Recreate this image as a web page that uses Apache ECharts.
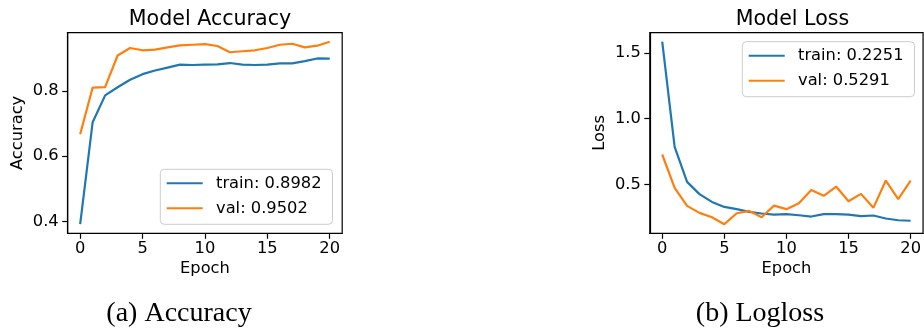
<!DOCTYPE html>
<html>
<head>
<meta charset="utf-8">
<script src="https://cdn.jsdelivr.net/npm/echarts@6/dist/echarts.min.js"></script>
<style>
  html, body { margin: 0; padding: 0; background: #fff; }
  #chart { width: 924px; height: 336px; }
</style>
</head>
<body>
<div id="chart"></div>
<script>
// Training history: one value per epoch
const epochs = [0,1,2,3,4,5,6,7,8,9,10,11,12,13,14,15,16,17,18,19,20];

const accTrain = [0.392,0.704,0.786,0.811,0.834,0.851,0.862,0.871,0.880,0.879,0.880,
                  0.881,0.885,0.880,0.879,0.880,0.884,0.884,0.891,0.899,0.8982];
const accVal   = [0.667,0.810,0.811,0.908,0.931,0.924,0.926,0.933,0.939,0.941,0.943,
                  0.937,0.918,0.921,0.924,0.931,0.941,0.944,0.933,0.938,0.9502];

const lossTrain = [1.584,0.786,0.520,0.427,0.368,0.330,0.313,0.292,0.280,0.272,0.275,
                   0.267,0.257,0.275,0.275,0.272,0.260,0.265,0.242,0.229,0.2251];
const lossVal   = [0.728,0.475,0.338,0.285,0.252,0.199,0.282,0.300,0.252,0.340,0.313,
                   0.358,0.459,0.414,0.485,0.373,0.429,0.323,0.530,0.389,0.5291];

const xTicks = [0, 5, 10, 15, 20];
const accTicks = [0.4, 0.6, 0.8];
const lossTicks = [0.5, 1.0, 1.5];

const accNames = ['train: 0.8982', 'val: 0.9502'];
const lossNames = ['train: 0.2251', 'val: 0.5291'];

const BLUE = '#1f77b4';
const ORANGE = '#ff7f0e';
const SANS = 'DejaVu Sans';
const FS = 16.3;

const pairs = (vals) => epochs.map((e, i) => [e, vals[i]]);

function xAxis(gridIndex) {
  return {
    type: 'value', gridIndex, min: -1, max: 21,
    name: 'Epoch', nameLocation: 'middle', nameGap: 27,
    nameTextStyle: { fontFamily: SANS, fontSize: FS, color: '#000' },
    axisLine: { show: true, onZero: false, lineStyle: { color: '#000', width: 1.2 } },
    axisTick: { show: true, inside: false, length: 5.5, customValues: xTicks,
                lineStyle: { color: '#000', width: 1.2 } },
    axisLabel: { customValues: xTicks, margin: 7, fontFamily: SANS, fontSize: FS, color: '#000' },
    splitLine: { show: false }
  };
}

function yAxis(gridIndex, name, min, max, ticks, digits) {
  return {
    type: 'value', gridIndex, min, max,
    name, nameLocation: 'middle', nameGap: 42,
    nameTextStyle: { fontFamily: SANS, fontSize: FS, color: '#000' },
    axisLine: { show: true, onZero: false, lineStyle: { color: '#000', width: 1.2 } },
    axisTick: { show: true, inside: false, length: 5.5, customValues: ticks,
                lineStyle: { color: '#000', width: 1.2 } },
    axisLabel: { customValues: ticks, margin: 9, fontFamily: SANS, fontSize: FS, color: '#000',
                 formatter: (v) => v.toFixed(digits) },
    splitLine: { show: false }
  };
}

function legend(left, top, names) {
  return {
    orient: 'vertical', left, top,
    data: names.map((n) => ({ name: n, icon: 'rect' })),
    itemWidth: 36, itemHeight: 2, itemGap: 7,
    padding: [5, 11, 7, 6.4],
    backgroundColor: 'rgba(255,255,255,0.8)',
    borderColor: '#cccccc', borderWidth: 1, borderRadius: 4,
    selectedMode: false,
    textStyle: { fontFamily: SANS, fontSize: FS, color: '#000', lineHeight: 18,
                 padding: [0, 0, 0, 8.3] }
  };
}

function line(name, vals, idx, color) {
  return {
    type: 'line', name, data: pairs(vals),
    xAxisIndex: idx, yAxisIndex: idx,
    showSymbol: false, symbol: 'none',
    lineStyle: { color, width: 2.2 }, itemStyle: { color },
    emphasis: { disabled: true }
  };
}

const chart = echarts.init(document.getElementById('chart'), null, { renderer: 'canvas' });
chart.setOption({
  animation: false,
  backgroundColor: '#fff',
  title: [
    { text: 'Model Accuracy', left: 205, top: 4, textAlign: 'center',
      textStyle: { fontFamily: SANS, fontSize: 20.6, fontWeight: 'normal', color: '#000' } },
    { text: 'Model Loss', left: 787.5, top: 4, textAlign: 'center',
      textStyle: { fontFamily: SANS, fontSize: 20.6, fontWeight: 'normal', color: '#000' } },
    { text: '(a) Accuracy', left: 174, top: 295, textAlign: 'center',
      textStyle: { fontFamily: 'Liberation Serif', fontSize: 28, fontWeight: 'normal', color: '#000' } },
    { text: '(b) Logloss', left: 755, top: 295, textAlign: 'center',
      textStyle: { fontFamily: 'Liberation Serif', fontSize: 28, fontWeight: 'normal', color: '#000' } }
  ],
  grid: [
    { left: 67.7, top: 32.6, width: 274.5, height: 200.7, show: true,
      borderColor: '#000', borderWidth: 1.2, backgroundColor: 'transparent' },
    { left: 649.8, top: 32.6, width: 274.5, height: 200.7, show: true,
      borderColor: '#000', borderWidth: 1.2, backgroundColor: 'transparent' }
  ],
  xAxis: [xAxis(0), xAxis(1)],
  yAxis: [
    yAxis(0, 'Accuracy', 0.3641, 0.9781, accTicks, 1),
    yAxis(1, 'Loss', 0.1298, 1.6533, lossTicks, 1)
  ],
  legend: [
    legend(160.3, 169.3, accNames),
    legend(742.3, 41.7, lossNames)
  ],
  series: [
    line(accNames[0], accTrain, 0, BLUE),
    line(accNames[1], accVal, 0, ORANGE),
    line(lossNames[0], lossTrain, 1, BLUE),
    line(lossNames[1], lossVal, 1, ORANGE)
  ]
});
</script>
</body>
</html>
